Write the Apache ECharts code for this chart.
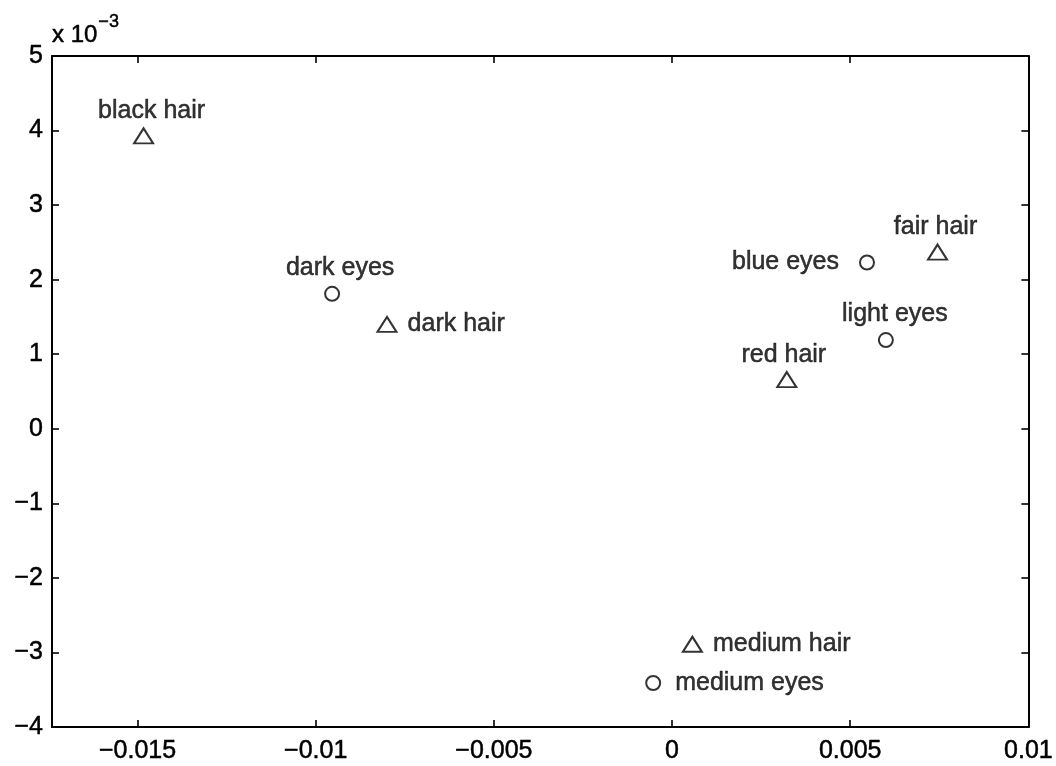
<!DOCTYPE html>
<html>
<head>
<meta charset="utf-8">
<script src="https://cdn.jsdelivr.net/npm/echarts@6/dist/echarts.min.js"></script>
<style>
  html, body { margin: 0; padding: 0; background: #fff; }
  #chart { width: 1056px; height: 766px; }
</style>
</head>
<body>
<div id="chart"></div>
<script>
// Hair and eye colour categories placed on two correspondence dimensions
const eyeNames = ['dark eyes', 'blue eyes', 'light eyes', 'medium eyes'];
const eyeX = [-0.00954, 0.00547, 0.00600, -0.00053];
const eyeY = [1.81, 2.23, 1.19, -3.41];

const hairNames = ['black hair', 'dark hair', 'fair hair', 'red hair', 'medium hair'];
const hairX = [-0.01483, -0.00800, 0.00745, 0.00322, 0.00057];
const hairY = [3.93, 1.40, 2.37, 0.66, -2.89];

// Axis ticks (y values are in units of 10^-3)
const xTicks = [-0.015, -0.01, -0.005, 0, 0.005, 0.01];
const yTicks = [-4, -3, -2, -1, 0, 1, 2, 3, 4, 5];

// Where each annotation sits relative to its marker
const labelPlacement = {
  'black hair':  { position: 'top',   distance: 4,  dx: 8 },
  'dark eyes':   { position: 'top',   distance: 5,  dx: 8 },
  'dark hair':   { position: 'right', distance: 10, dx: 0 },
  'fair hair':   { position: 'top',   distance: 4,  dx: -2 },
  'blue eyes':   { position: 'left',  distance: 20, dx: 0 },
  'light eyes':  { position: 'top',   distance: 5,  dx: 9 },
  'red hair':    { position: 'top',   distance: 4,  dx: -3 },
  'medium hair': { position: 'right', distance: 10, dx: 0 },
  'medium eyes': { position: 'right', distance: 14, dx: 0 }
};

const FONT = '"Liberation Sans", Arial, Helvetica, sans-serif';
const FS = 25;
// a thin outline in the text colour gives the glyphs a heavier, print-like weight
const INK = { color: '#000', textBorderColor: '#000', textBorderWidth: 0.5 };

function points(names, xs, ys) {
  return names.map(function (n, i) {
    const p = labelPlacement[n];
    return {
      name: n,
      value: [xs[i], ys[i]],
      label: {
        show: true,
        formatter: n,
        position: p.position,
        distance: p.distance,
        offset: [p.dx, 0]
      }
    };
  });
}

function fmtSigned(v) {
  return v < 0 ? '\u2212' + String(Math.abs(v)) : String(v);
}

const X_MIN = -0.0174, X_MAX = 0.01;
const Y_MIN = -4, Y_MAX = 5;

const lineStyle = { color: '#000', width: 2 };
const tickStyle = { inside: true, length: 7, lineStyle: { color: '#000', width: 1.6 } };

const chart = echarts.init(document.getElementById('chart'), null, { renderer: 'canvas' });

chart.setOption({
  backgroundColor: '#fff',
  animation: false,
  textStyle: { fontFamily: FONT, color: '#000' },
  grid: { left: 52, right: 26, top: 56, bottom: 39, containLabel: false },
  xAxis: [
    {
      type: 'value', position: 'bottom', min: X_MIN, max: X_MAX,
      axisLine: { show: true, onZero: false, lineStyle: lineStyle },
      axisTick: Object.assign({ customValues: xTicks }, tickStyle),
      axisLabel: Object.assign({
        customValues: xTicks, formatter: fmtSigned, margin: 12,
        fontSize: FS, fontFamily: FONT
      }, INK),
      splitLine: { show: false }
    },
    {
      type: 'value', position: 'top', min: X_MIN, max: X_MAX,
      axisLine: { show: true, onZero: false, lineStyle: lineStyle },
      axisTick: Object.assign({ customValues: xTicks }, tickStyle),
      axisLabel: { show: false },
      splitLine: { show: false }
    }
  ],
  yAxis: [
    {
      type: 'value', position: 'left', min: Y_MIN, max: Y_MAX, interval: 1,
      axisLine: { show: true, onZero: false, lineStyle: lineStyle },
      axisTick: Object.assign({ customValues: yTicks }, tickStyle),
      axisLabel: Object.assign({
        customValues: yTicks, formatter: fmtSigned, margin: 9,
        fontSize: FS, fontFamily: FONT
      }, INK),
      splitLine: { show: false },
      name: '{base|x 10}{sup|\u22123}',
      nameLocation: 'end',
      nameGap: 9,
      nameTextStyle: {
        align: 'left',
        verticalAlign: 'bottom',
        rich: {
          base: Object.assign({ fontSize: 24, fontFamily: FONT, lineHeight: 34, verticalAlign: 'bottom' }, INK),
          sup: Object.assign({ fontSize: 18, fontFamily: FONT, lineHeight: 34, verticalAlign: 'top', padding: [0, 0, 0, 1] }, INK)
        }
      }
    },
    {
      type: 'value', position: 'right', min: Y_MIN, max: Y_MAX, interval: 1,
      axisLine: { show: true, onZero: false, lineStyle: lineStyle },
      axisTick: Object.assign({ customValues: yTicks }, tickStyle),
      axisLabel: { show: false },
      splitLine: { show: false }
    }
  ],
  series: [
    {
      name: 'eyes', type: 'scatter', xAxisIndex: 0, yAxisIndex: 0,
      symbol: 'circle', symbolSize: 14,
      itemStyle: { color: '#fff', borderColor: '#000', borderWidth: 2 },
      label: Object.assign({ fontSize: FS, fontFamily: FONT }, INK),
      data: points(eyeNames, eyeX, eyeY)
    },
    {
      name: 'hair', type: 'scatter', xAxisIndex: 0, yAxisIndex: 0,
      symbol: 'triangle', symbolSize: [19, 15],
      itemStyle: { color: '#fff', borderColor: '#000', borderWidth: 2 },
      label: Object.assign({ fontSize: FS, fontFamily: FONT }, INK),
      data: points(hairNames, hairX, hairY)
    }
  ]
});
</script>
</body>
</html>
